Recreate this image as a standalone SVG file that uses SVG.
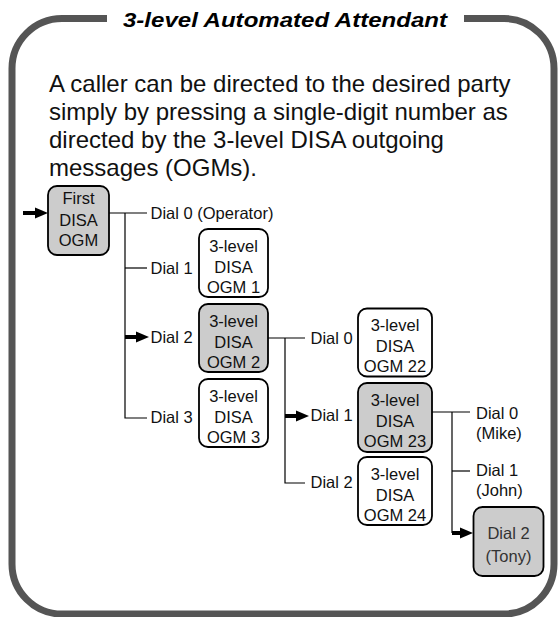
<svg xmlns="http://www.w3.org/2000/svg" width="558" height="617" viewBox="0 0 558 617">
<style>
  .frame{fill:none;stroke:#555555;stroke-width:7}
  .title{font-family:"Liberation Sans",Arial,sans-serif;font-weight:bold;font-style:italic;font-size:21px;fill:#000}
  .body{font-family:"Liberation Sans",Arial,sans-serif;font-size:24px;fill:#111}
  .box{stroke:#000;stroke-width:1.8}
  .white{fill:#fff}
  .gray{fill:#cccccc}
  .bt{font-family:"Liberation Sans",Arial,sans-serif;font-size:16.5px;fill:#111;text-anchor:middle}
  .lbl{font-family:"Liberation Sans",Arial,sans-serif;font-size:16.5px;fill:#111}
  .ln{fill:none;stroke:#000;stroke-width:1.2}
  .shaft{stroke:#000;stroke-width:4}
</style>
<defs>
  <marker id="ah" markerUnits="userSpaceOnUse" markerWidth="15" markerHeight="12" refX="2" refY="6" orient="auto">
    <path d="M0,0.5 L13,6 L0,11.5 Z" fill="#000"/>
  </marker>
</defs>

<path class="frame" d="M107,18.5 H62 A50,50 0 0 0 12,68.5 V564 A50,50 0 0 0 62,614 H504 A50,50 0 0 0 554,564 V68.5 A50,50 0 0 0 504,18.5 H464"/>
<text class="title" x="285" y="26.5" text-anchor="middle" textLength="324" lengthAdjust="spacingAndGlyphs">3-level Automated Attendant</text>

<g id="intro">
  <text class="body" x="49" y="92">A caller can be directed to the desired party</text>
  <text class="body" x="49" y="120">simply by pressing a single-digit number as</text>
  <text class="body" x="49" y="148">directed by the 3-level DISA outgoing</text>
  <text class="body" x="49" y="176">messages (OGMs).</text>
</g>

<g id="connectors">
  <line class="shaft" x1="23" y1="213" x2="37" y2="213" marker-end="url(#ah)"/>
  <polyline class="ln" points="109,213 147,213"/>
  <polyline class="ln" points="125,213 125,418 147,418"/>
  <line class="ln" x1="125" y1="268" x2="147" y2="268"/>
  <line class="shaft" x1="125" y1="337" x2="138" y2="337" marker-end="url(#ah)"/>
  <polyline class="ln" points="268,338 305,338"/>
  <polyline class="ln" points="285,338 285,483 305,483"/>
  <line class="shaft" x1="285" y1="416" x2="298" y2="416" marker-end="url(#ah)"/>
  <polyline class="ln" points="432,412 470,412"/>
  <polyline class="ln" points="452,412 452,533"/>
  <line class="ln" x1="452" y1="471" x2="470" y2="471"/>
  <line class="shaft" x1="452" y1="533" x2="462" y2="533" marker-end="url(#ah)"/>
</g>

<g id="first-ogm">
  <rect class="box gray" x="48" y="186" width="61" height="69" rx="9"/>
  <text class="bt" x="78.5" y="204">First</text>
  <text class="bt" x="78.5" y="226">DISA</text>
  <text class="bt" x="78.5" y="246">OGM</text>
</g>

<g id="dial0-operator"><text class="lbl" x="150.5" y="219">Dial 0 (Operator)</text></g>
<g id="dial1-l1"><text class="lbl" x="150.5" y="274">Dial 1</text></g>
<g id="dial2-l1"><text class="lbl" x="150.5" y="343">Dial 2</text></g>
<g id="dial3-l1"><text class="lbl" x="150.5" y="423">Dial 3</text></g>

<g id="ogm1">
  <rect class="box white" x="199" y="229" width="69" height="68" rx="9"/>
  <text class="bt" x="233.5" y="252">3-level</text>
  <text class="bt" x="233.5" y="273">DISA</text>
  <text class="bt" x="233.5" y="293">OGM 1</text>
</g>
<g id="ogm2">
  <rect class="box gray" x="199" y="304" width="69" height="68" rx="9"/>
  <text class="bt" x="233.5" y="327">3-level</text>
  <text class="bt" x="233.5" y="348">DISA</text>
  <text class="bt" x="233.5" y="368">OGM 2</text>
</g>
<g id="ogm3">
  <rect class="box white" x="199" y="379" width="69" height="68" rx="9"/>
  <text class="bt" x="233.5" y="402">3-level</text>
  <text class="bt" x="233.5" y="423">DISA</text>
  <text class="bt" x="233.5" y="443">OGM 3</text>
</g>

<g id="dial0-l2"><text class="lbl" x="310.5" y="343.5">Dial 0</text></g>
<g id="dial1-l2"><text class="lbl" x="310.5" y="421">Dial 1</text></g>
<g id="dial2-l2"><text class="lbl" x="310.5" y="487.5">Dial 2</text></g>

<g id="ogm22">
  <rect class="box white" x="358" y="308.5" width="74" height="68" rx="9"/>
  <text class="bt" x="395" y="331">3-level</text>
  <text class="bt" x="395" y="352">DISA</text>
  <text class="bt" x="395" y="372">OGM 22</text>
</g>
<g id="ogm23">
  <rect class="box gray" x="358" y="383" width="74" height="69" rx="9"/>
  <text class="bt" x="395" y="406">3-level</text>
  <text class="bt" x="395" y="427">DISA</text>
  <text class="bt" x="395" y="447">OGM 23</text>
</g>
<g id="ogm24">
  <rect class="box white" x="358" y="457" width="74" height="68" rx="9"/>
  <text class="bt" x="395" y="480">3-level</text>
  <text class="bt" x="395" y="501">DISA</text>
  <text class="bt" x="395" y="521">OGM 24</text>
</g>

<g id="dial0-mike">
  <text class="lbl" x="476" y="418.5">Dial 0</text>
  <text class="lbl" x="476" y="438.5">(Mike)</text>
</g>
<g id="dial1-john">
  <text class="lbl" x="476" y="476">Dial 1</text>
  <text class="lbl" x="476" y="496">(John)</text>
</g>
<g id="dial2-tony">
  <rect class="box gray" x="473.5" y="507" width="70" height="69" rx="9"/>
  <text class="bt" x="508.5" y="538.5" style="fill:#333">Dial 2</text>
  <text class="bt" x="508.5" y="562" style="fill:#333">(Tony)</text>
</g>
</svg>
